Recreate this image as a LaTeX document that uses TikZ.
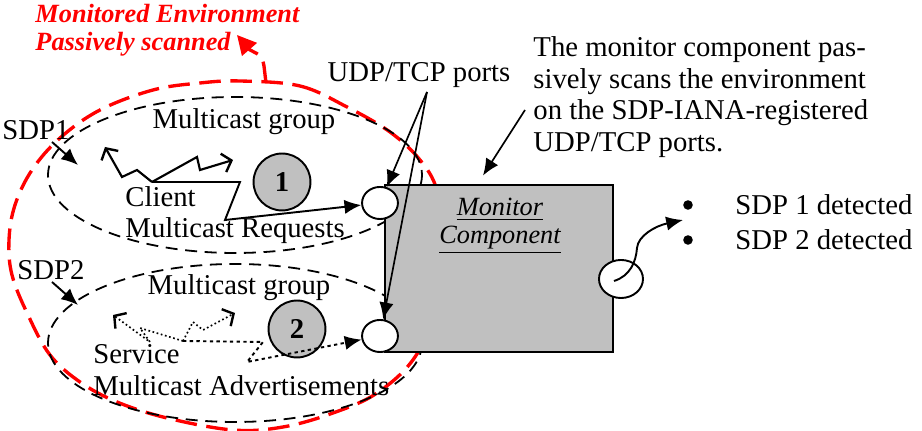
\documentclass[tikz,border=0pt]{standalone}
\usepackage{fontspec}
\setmainfont{Liberation Serif}
\usepackage{tikz}
\usetikzlibrary{arrows.meta,shapes.geometric}
\definecolor{boxgray}{HTML}{C0C0C0}

\begin{document}
\begin{tikzpicture}[
  x=0.418pt, y=-0.418pt,
  txt/.style={font=\fontsize{12}{13.2}\selectfont, inner sep=0pt},
  grp/.style={line width=0.75pt, dash pattern=on 5pt off 3.2pt},
  env/.style={red, line width=1.4pt, dash pattern=on 9pt off 4pt},
  port/.style={draw, ellipse, fill=white, line width=0.8pt, inner sep=0pt,
               minimum width=15pt, minimum height=13.4pt},
  numdisc/.style={draw, circle, fill=boxgray, line width=0.8pt, inner sep=0pt,
                  minimum size=23.8pt, font=\fontsize{12}{13}\selectfont\bfseries},
  dot/.style={circle, fill, inner sep=0pt, minimum size=4pt},
  arr/.style={line width=0.8pt, -{Latex[length=7pt,width=6pt]}},
  barb/.style={-{Straight Barb[length=3.5pt,width=8pt,line width=1pt]}},
  zz/.style={line width=0.9pt},
  dotz/.style={line width=0.7pt, dash pattern=on 0.7pt off 1.1pt},
  dotmain/.style={line width=1.4pt, dash pattern=on 1.4pt off 1.4pt},
]
\useasboundingbox (0,0) rectangle (922,431);

% Monitored environment (red) and the two multicast groups
\draw[env] plot[smooth cycle, tension=0.6] coordinates {
  (240,81) (300,86) (347,107) (390,132) (420,160) (437,190) (445,240)
  (440,300) (415,357) (377,393) (333,413) (283,427) (233,430) (167,418)
  (117,402) (80,382) (50,355) (28,315) (12,275) (9,240) (15,205)
  (32,170) (60,138) (100,110) (153,90) (200,83)};
\coordinate (envtop) at (266,83);
\draw[env, -{Triangle[length=8pt,width=8pt]}]
  (envtop) -- (264,66) .. controls (262,56) .. (250,50) -- (237,35);

\draw[grp] (235,175) ellipse [x radius=187, y radius=78];
\draw[grp] (235,343) ellipse [x radius=187, y radius=79];

% Monitor component with its ports
\node[draw, fill=boxgray, line width=1.2pt, inner sep=0pt,
      minimum width=95.3pt, minimum height=69.8pt] (mon) at (499,268.5) {};
\node[txt, font=\fontsize{11}{11.7}\selectfont\itshape, align=center]
  (monlbl) at (500,226) {\underline{Monitor}\\\underline{Component}};
\node[port] (p1) at (380,203) {};
\node[port] (p2) at (380,336) {};
\node[port, minimum width=18.4pt, minimum height=15.9pt] (p3) at (621,279) {};

% Labels
\node[txt, red, font=\fontsize{11}{11.7}\selectfont\bfseries\itshape,
      align=left, anchor=west] (envlbl) at (35,30)
  {Monitored Environment\\Passively scanned};
\node[txt] (sdp1) at (36,130) {SDP1};
\node[txt] (sdp2) at (51,270) {SDP2};
\node[txt] (grp1) at (244,122) {Multicast group};
\node[txt] (grp2) at (239,288) {Multicast group};
\node[txt, align=left, anchor=west] (client) at (125,215)
  {Client\\Multicast Requests};
\node[txt, align=left, anchor=west] (service) at (93,370)
  {Service\\Multicast Advertisements};
\node[numdisc] (n1) at (282,182) {1};
\node[numdisc] (n2) at (297,329) {2};
\node[txt] (udp) at (419,75) {UDP/TCP ports};
\node[txt, align=left, anchor=west] (note) at (533,97)
  {The monitor component pas-\\sively scans the environment\\
   on the SDP-IANA-registered\\UDP/TCP ports.};
\node[dot] (b1) at (688,205) {};
\node[dot] (b2) at (688,240) {};
\node[txt, anchor=west] (det1) at (735,205) {SDP 1 detected};
\node[txt, anchor=west] (det2) at (735,240) {SDP 2 detected};

% Pointers to the groups and the box
\coordinate (g1in) at (78,165);
\coordinate (g2in) at (78,305);
\draw[arr] ([shift={(16,12)}]sdp1.center) -- (g1in);
\draw[arr] ([shift={(1,12)}]sdp2.center) -- (g2in);
\coordinate (udpfoot) at (427,92);
\draw[arr, line width=0.7pt] (udpfoot) -- (p1);
\draw[arr, line width=0.7pt] (udpfoot) -- (p2);
\coordinate (notefoot) at (525,110);
\draw[arr, line width=0.7pt] (notefoot) -- ([shift={(-16,-8)}]mon.north);

% Client requests (zigzags)
\coordinate (c0) at (152,182);
\draw[zz, barb] (c0) -- (137,170) -- (122,177) -- (105,147);
\draw[zz, barb] (c0) -- (197,157) -- (200,170) -- (233,160);
\draw[zz, arr] (c0) -- (240,182) -- (225,220) -- (p1);

% Service advertisements (dotted zigzags)
\coordinate (s0) at (183,341);
\draw[dotz, barb] (s0) -- (140,328) -- (150,342) -- (113,315);
\draw[dotz, barb] (s0) -- (193,322) -- (203,330) -- (235,313);
\draw[dotmain, arr] (s0) -- (263,342) -- (247,362) -- (p2);

% Output of the monitor
\coordinate (outtip) at (683,220);
\draw[arr] ([shift={(-7,2)}]p3.center) .. controls (630,276) and (636,262) ..
  (637,248) .. controls (638,236) and (655,226) .. (outtip);

\end{tikzpicture}
\end{document}
